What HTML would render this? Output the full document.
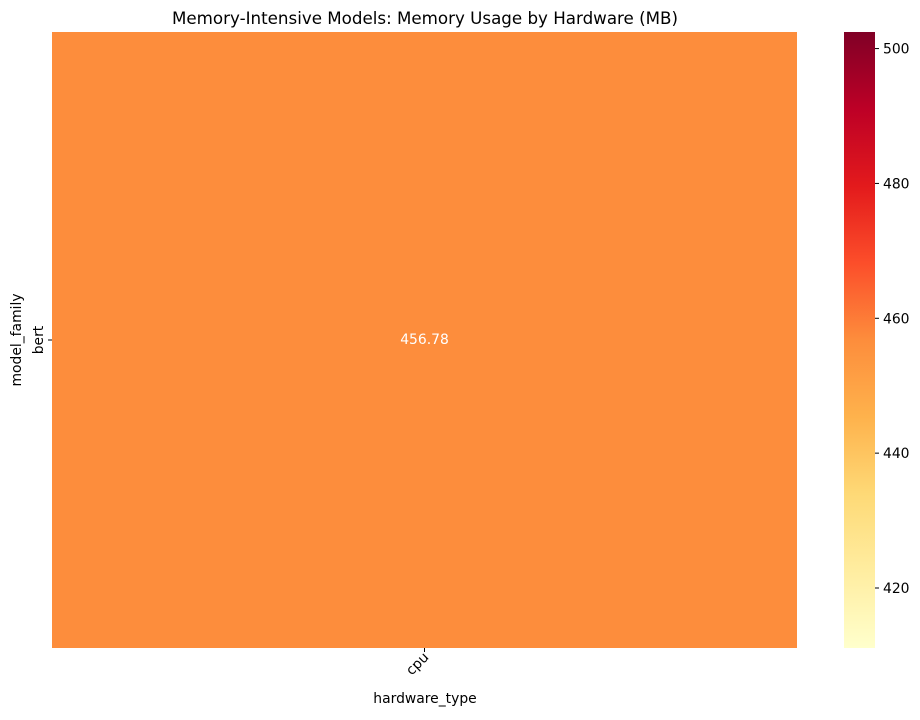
<!DOCTYPE html>
<html><head><meta charset="utf-8"><style>
body{margin:0;background:#fff;width:920px;height:715px;overflow:hidden;font-family:"Liberation Sans","DejaVu Sans",sans-serif}
</style></head><body>
<svg id="chart" width="920" height="715" xmlns="http://www.w3.org/2000/svg" font-family="DejaVu Sans, Liberation Sans, sans-serif">
<defs><linearGradient id="cg" x1="0" y1="1" x2="0" y2="0">
<stop offset="0" stop-color="#ffffcc"/><stop offset="0.125" stop-color="#ffeda0"/><stop offset="0.25" stop-color="#fed976"/><stop offset="0.375" stop-color="#feb24c"/><stop offset="0.5" stop-color="#fd8d3c"/><stop offset="0.625" stop-color="#fc4e2a"/><stop offset="0.75" stop-color="#e31a1c"/><stop offset="0.875" stop-color="#bd0026"/><stop offset="1" stop-color="#800026"/>
</linearGradient></defs>
<text x="425" y="24" text-anchor="middle" font-size="16.7" fill="#000">Memory-Intensive Models: Memory Usage by Hardware (MB)</text>
<g id="cells"></g>
<g id="xt"></g><g id="yt"></g>
<text x="425" y="703" text-anchor="middle" font-size="13.9">hardware_type</text>
<text transform="translate(21,340) rotate(-90)" text-anchor="middle" font-size="13.9">model_family</text>
<rect x="844" y="32" width="31" height="616" fill="url(#cg)"/>
<g id="cbt"></g>
</svg>
<script>
const categoriesX = ["cpu"];
const categoriesY = ["bert"];
const values = [[456.78]];
const cbTicks = [420, 440, 460, 480, 500];
const ns = "http://www.w3.org/2000/svg";
const stops = ["#ffffcc","#ffeda0","#fed976","#feb24c","#fd8d3c","#fc4e2a","#e31a1c","#bd0026","#800026"];
const flat = values.flat();
let vmin = Math.min(...flat), vmax = Math.max(...flat);
if (vmin === vmax) { vmin = vmin - Math.abs(vmin) * 0.1; vmax = vmax + Math.abs(vmax) * 0.1; }
const L = 52, R = 797, T = 32, B = 648;
const cw = (R - L) / categoriesX.length, ch = (B - T) / categoriesY.length;
function hex(h){return [1,3,5].map(i=>parseInt(h.substr(i,2),16));}
function color(v){
  let t = Math.max(0, Math.min(1, (v - vmin) / (vmax - vmin))) * (stops.length - 1);
  let i = Math.min(Math.floor(t), stops.length - 2), f = t - i;
  const a = hex(stops[i]), b = hex(stops[i+1]);
  return "rgb(" + a.map((x,k)=>Math.round(x + (b[k]-x)*f)).join(",") + ")";
}
function cbY(v){return B - (v - vmin) / (vmax - vmin) * (B - T);}
const cells = document.getElementById("cells");
values.forEach((row, r) => row.forEach((v, c) => {
  const rect = document.createElementNS(ns, "rect");
  rect.setAttribute("x", L + c * cw); rect.setAttribute("y", T + r * ch);
  rect.setAttribute("width", cw); rect.setAttribute("height", ch);
  rect.setAttribute("fill", color(v));
  
  
  cells.appendChild(rect);
  const t = document.createElementNS(ns, "text");
  t.setAttribute("x", L + (c + 0.5) * cw); t.setAttribute("y", T + (r + 0.5) * ch + 4);
  t.setAttribute("text-anchor", "middle"); t.setAttribute("font-size", "13.9");
  t.setAttribute("fill", (v - vmin) / (vmax - vmin) > 0.35 ? "#fff" : "#262626");
  t.textContent = v.toFixed(2);
  
  
  cells.appendChild(t);
}));
const xt = document.getElementById("xt");
categoriesX.forEach((c, i) => {
  const x = L + (i + 0.5) * cw;
  const ln = document.createElementNS(ns, "line");
  ln.setAttribute("x1", x); ln.setAttribute("x2", x); ln.setAttribute("y1", B); ln.setAttribute("y2", B + 4);
  ln.setAttribute("stroke", "#000");
  
  
  xt.appendChild(ln);
  const t = document.createElementNS(ns, "text");
  t.setAttribute("transform", "translate(" + (x + 5) + "," + (B + 10) + ") rotate(-45)");
  t.setAttribute("text-anchor", "end"); t.setAttribute("font-size", "13.9");
  t.textContent = c;
  
  
  xt.appendChild(t);
});
const yt = document.getElementById("yt");
categoriesY.forEach((c, i) => {
  const y = T + (i + 0.5) * ch;
  const ln = document.createElementNS(ns, "line");
  ln.setAttribute("x1", L - 4); ln.setAttribute("x2", L); ln.setAttribute("y1", y); ln.setAttribute("y2", y);
  ln.setAttribute("stroke", "#000");
  
  
  yt.appendChild(ln);
  const t = document.createElementNS(ns, "text");
  t.setAttribute("transform", "translate(43," + y + ") rotate(-90)");
  t.setAttribute("text-anchor", "middle"); t.setAttribute("font-size", "13.9");
  t.textContent = c;
  
  
  yt.appendChild(t);
});
const cbt = document.getElementById("cbt");
cbTicks.forEach(v => {
  const y = cbY(v);
  const ln = document.createElementNS(ns, "line");
  ln.setAttribute("x1", 875); ln.setAttribute("x2", 879); ln.setAttribute("y1", y); ln.setAttribute("y2", y);
  ln.setAttribute("stroke", "#000");
  
  
  cbt.appendChild(ln);
  const t = document.createElementNS(ns, "text");
  t.setAttribute("x", 883); t.setAttribute("y", y + 5); t.setAttribute("font-size", "13.9");
  t.textContent = v;
  
  
  cbt.appendChild(t);
});
</script>
</body></html>
